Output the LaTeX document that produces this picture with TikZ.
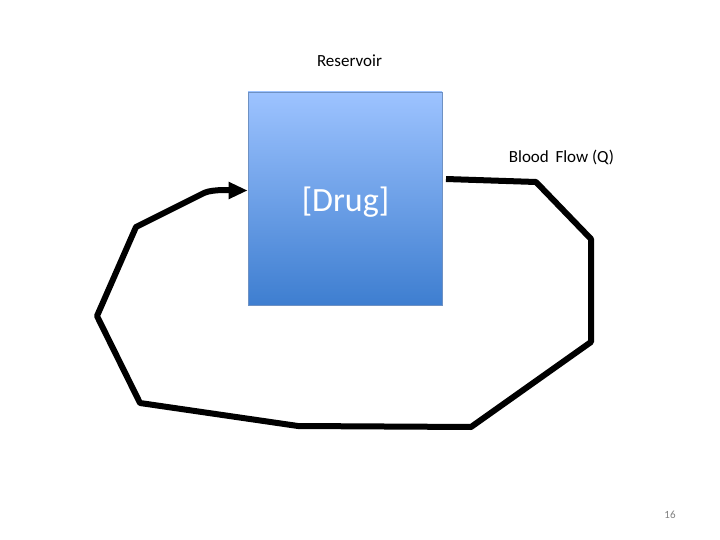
\documentclass[tikz,border=0pt]{standalone}
\usepackage{fontspec}
\setmainfont{Carlito}
\usetikzlibrary{arrows.meta,calc}
\definecolor{boxtop}{RGB}{157,195,255}
\definecolor{boxbot}{RGB}{62,126,208}
\definecolor{boxline}{RGB}{110,145,195}
\tikzset{
  flow/.style={line width=6pt, line join=round, draw=black},
  label/.style={inner sep=0pt, font=\fontsize{17}{20}\selectfont},
}
\begin{document}
\begin{tikzpicture}[x=1pt,y=-1pt]
\useasboundingbox (0,0) rectangle (720,540);
\node[draw=boxline, line width=0.6pt, top color=boxtop, bottom color=boxbot,
      minimum width=194pt, minimum height=213pt, inner sep=0pt] (res) at (345,198.5) {};
\node[text=white, inner sep=0pt, font=\fontsize{34}{40}\selectfont] (drug) at (345.5,202) {[Drug]};
\node[label] (lab) at (349.5,61) {Reservoir};
\node[label] (flow) at (561.5,157) {Blood\, Flow (Q)};
\node[inner sep=0pt, text=black!50, font=\fontsize{11}{13}\selectfont] (pg) at (670,515) {16};
\coordinate (p0) at (446,179);
\coordinate (p1) at (536,182);
\coordinate (p2) at (591,239);
\coordinate (p3) at (591,342);
\coordinate (p4) at (471,427);
\coordinate (p5) at (298,426);
\coordinate (p6) at (140,403);
\coordinate (p7) at (97,316);
\coordinate (p8) at (136,227);
\coordinate (p9) at (204,193);
\coordinate (tip) at (res.west |- 0,190.5);
\draw[flow, -{Triangle[length=19pt,width=16pt]}]
  (p0) -- (p1) -- (p2) -- (p3) -- (p4) -- (p5) -- (p6) -- (p7) -- (p8) -- (p9)
  to[out=26, in=180, looseness=0.6] (tip);
\end{tikzpicture}
\end{document}
